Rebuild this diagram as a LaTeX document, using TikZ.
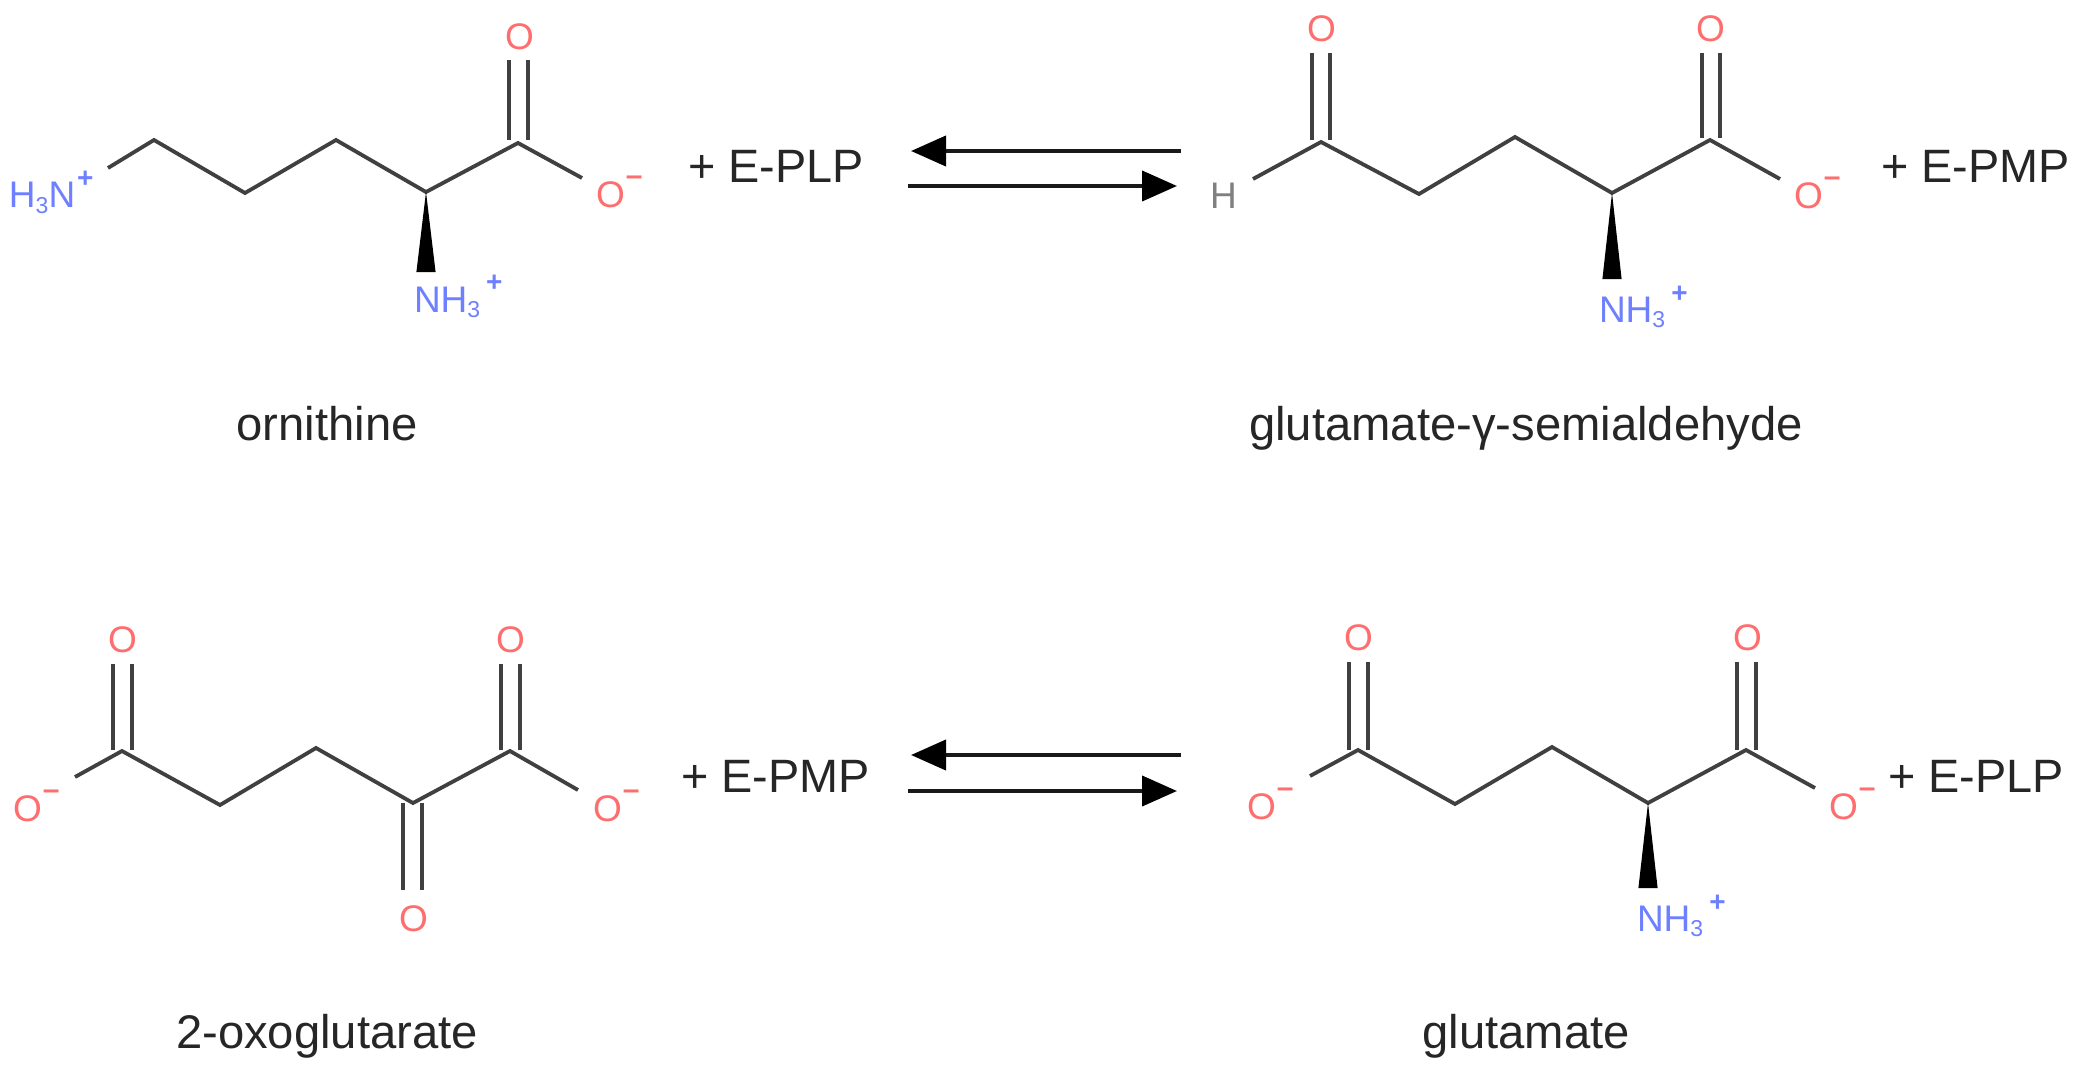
\documentclass[tikz,border=0pt]{standalone}
\usepackage{fontspec}
\setmainfont{Liberation Sans}
\usetikzlibrary{arrows.meta}
\definecolor{oxy}{HTML}{FF6E6E}
\definecolor{nit}{HTML}{6E80FF}
\definecolor{hyd}{HTML}{808080}
\definecolor{bondc}{HTML}{404040}
\newcommand{\lowidx}[1]{\raisebox{-2.5pt}{\fontsize{11.5}{12}\selectfont #1}}
\newcommand{\pluscharge}{\kern1pt\raisebox{10pt}{\fontsize{14}{15}\selectfont\bfseries +}}
\newcommand{\minuscharge}{\kern0.5pt\raisebox{11pt}{\fontsize{15}{16}\selectfont\bfseries –}}
\tikzset{
  bond/.style={draw=bondc,line width=1.9pt,line join=miter},
  dbl/.style={draw=bondc,line width=1.7pt},
  wedge/.style={fill=black,draw=none},
  atom/.style={inner sep=0pt,outer sep=0pt,anchor=base west,font=\fontsize{18.5}{20}\selectfont},
  oatom/.style={atom,text=oxy},
  natom/.style={atom,text=nit},
  hatom/.style={atom,text=hyd},
  caption/.style={inner sep=0pt,outer sep=0pt,anchor=base,text=black!85,font=\fontsize{23.6}{26}\selectfont},
  cofactor/.style={inner sep=0pt,outer sep=0pt,anchor=base west,text=black!85,font=\fontsize{23.4}{26}\selectfont},
  rxn/.style={draw=black!90,line width=2pt,-{Triangle[length=17.5pt,width=15pt,fill=black,color=black]}}
}
\begin{document}
\begin{tikzpicture}[x=0.5pt,y=-0.5pt]
\useasboundingbox (0,0) rectangle (2086,1075);
\fill[white] (0,0) rectangle (2086,1075);

% ---------- ornithine
\coordinate (a1) at (108,168); \coordinate (a2) at (154,140); \coordinate (a3) at (245,193);
\coordinate (a4) at (336,140); \coordinate (a5) at (426,192); \coordinate (a6) at (518,143);
\coordinate (a7) at (582,178);
\coordinate (a8) at (509,60); \coordinate (a9) at (509,140);
\coordinate (a10) at (528,60); \coordinate (a11) at (528,140);
\coordinate (a12) at (426,272);
\draw[bond] (a1)--(a2)--(a3)--(a4)--(a5)--(a6)--(a7);
\draw[dbl] (a8)--(a9); \draw[dbl] (a10)--(a11);
\fill[wedge] (a5)--([xshift=-4.8pt]a12)--([xshift=4.8pt]a12)--cycle;
\node[natom] (an1) at (9,208) {H\lowidx{3}N\pluscharge};
\node[natom] (an2) at (414,312) {NH\lowidx{3}\kern2pt\pluscharge};
\node[oatom] (ao1) at (505,50) {O};
\node[oatom] (ao2) at (596,208) {O\minuscharge};
\node[cofactor] (ac) at (688,183) {+ E-PLP};
\node[caption] (al) at (327,440) {ornithine};

% ---------- arrows top
\coordinate (r1a) at (1181,151); \coordinate (r1b) at (911,151);
\coordinate (r2a) at (908,186); \coordinate (r2b) at (1177,186);
\draw[rxn] (r1a)--(r1b);
\draw[rxn] (r2a)--(r2b);

% ---------- glutamate-gamma-semialdehyde
\coordinate (b1) at (1253,179); \coordinate (b2) at (1321,142); \coordinate (b3) at (1419,194);
\coordinate (b4) at (1515,137); \coordinate (b5) at (1612,193); \coordinate (b6) at (1710,140);
\coordinate (b7) at (1780,179);
\coordinate (b8) at (1312,53); \coordinate (b9) at (1312,140);
\coordinate (b10) at (1330,53); \coordinate (b11) at (1330,140);
\coordinate (b12) at (1702,53); \coordinate (b13) at (1702,138);
\coordinate (b14) at (1720,53); \coordinate (b15) at (1720,138);
\coordinate (b16) at (1612,279);
\draw[bond] (b1)--(b2)--(b3)--(b4)--(b5)--(b6)--(b7);
\draw[dbl] (b8)--(b9); \draw[dbl] (b10)--(b11);
\draw[dbl] (b12)--(b13); \draw[dbl] (b14)--(b15);
\fill[wedge] (b5)--([xshift=-4.8pt]b16)--([xshift=4.8pt]b16)--cycle;
\node[hatom] (bh) at (1210,209) {H};
\node[natom] (bn) at (1599,322) {NH\lowidx{3}\kern2pt\pluscharge};
\node[oatom] (bo1) at (1307,42) {O};
\node[oatom] (bo2) at (1696,42) {O};
\node[oatom] (bo3) at (1794,209) {O\minuscharge};
\node[cofactor] (bc) at (1881,183) {+ E-PMP};
\node[caption] (bl) at (1526,440) {glutamate-γ-semialdehyde};

% ---------- 2-oxoglutarate
\coordinate (c1) at (75,777); \coordinate (c2) at (122,751); \coordinate (c3) at (220,805);
\coordinate (c4) at (316,748); \coordinate (c5) at (413,803); \coordinate (c6) at (510,751);
\coordinate (c7) at (578,790);
\coordinate (c8) at (113,664); \coordinate (c9) at (113,750);
\coordinate (c10) at (132,664); \coordinate (c11) at (132,750);
\coordinate (c12) at (501,664); \coordinate (c13) at (501,750);
\coordinate (c14) at (520,664); \coordinate (c15) at (520,750);
\coordinate (c16) at (403,803); \coordinate (c17) at (403,890);
\coordinate (c18) at (422,803); \coordinate (c19) at (422,890);
\draw[bond] (c1)--(c2)--(c3)--(c4)--(c5)--(c6)--(c7);
\draw[dbl] (c8)--(c9); \draw[dbl] (c10)--(c11);
\draw[dbl] (c12)--(c13); \draw[dbl] (c14)--(c15);
\draw[dbl] (c16)--(c17); \draw[dbl] (c18)--(c19);
\node[oatom] (co1) at (108,652) {O};
\node[oatom] (co2) at (496,652) {O};
\node[oatom] (co3) at (399,931) {O};
\node[oatom] (co4) at (13,821) {O\minuscharge};
\node[oatom] (co5) at (593,821) {O\minuscharge};
\node[cofactor] (cc) at (681,792) {+ E-PMP};
\node[caption] (cl) at (327,1048) {2-oxoglutarate};

% ---------- arrows bottom
\coordinate (r3a) at (1181,755); \coordinate (r3b) at (911,755);
\coordinate (r4a) at (908,791); \coordinate (r4b) at (1177,791);
\draw[rxn] (r3a)--(r3b);
\draw[rxn] (r4a)--(r4b);

% ---------- glutamate
\coordinate (d1) at (1310,776); \coordinate (d2) at (1358,750); \coordinate (d3) at (1455,804);
\coordinate (d4) at (1552,747); \coordinate (d5) at (1648,803); \coordinate (d6) at (1746,750);
\coordinate (d7) at (1815,788);
\coordinate (d8) at (1349,662); \coordinate (d9) at (1349,750);
\coordinate (d10) at (1368,662); \coordinate (d11) at (1368,750);
\coordinate (d12) at (1737,662); \coordinate (d13) at (1737,750);
\coordinate (d14) at (1756,662); \coordinate (d15) at (1756,750);
\coordinate (d16) at (1648,888);
\draw[bond] (d1)--(d2)--(d3)--(d4)--(d5)--(d6)--(d7);
\draw[dbl] (d8)--(d9); \draw[dbl] (d10)--(d11);
\draw[dbl] (d12)--(d13); \draw[dbl] (d14)--(d15);
\fill[wedge] (d5)--([xshift=-4.8pt]d16)--([xshift=4.8pt]d16)--cycle;
\node[natom] (dn) at (1637,931) {NH\lowidx{3}\kern2pt\pluscharge};
\node[oatom] (do1) at (1344,650) {O};
\node[oatom] (do2) at (1733,650) {O};
\node[oatom] (do3) at (1247,819) {O\minuscharge};
\node[oatom] (do4) at (1829,819) {O\minuscharge};
\node[cofactor] (dc) at (1888,792) {+ E-PLP};
\node[caption] (dl) at (1526,1048) {glutamate};
\end{tikzpicture}
\end{document}
